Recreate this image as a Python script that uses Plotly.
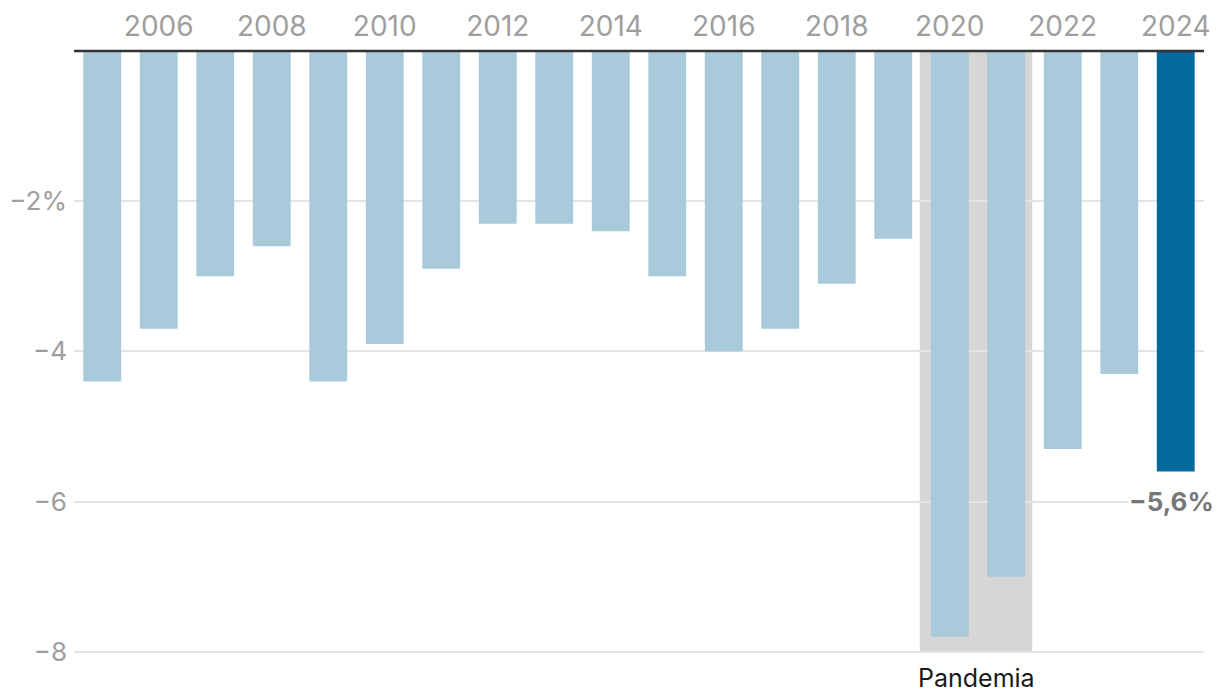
import plotly.graph_objects as go

years = list(range(2005, 2025))
values = [-4.4, -3.7, -3.0, -2.6, -4.4, -3.9, -2.9, -2.3, -2.3, -2.4,
          -3.0, -4.0, -3.7, -3.1, -2.5, -7.8, -7.0, -5.3, -4.3, -5.6]
x_tick_vals = list(range(2006, 2025, 2))
x_tick_text = [str(y) for y in x_tick_vals]
y_tick_vals = [-2, -4, -6, -8]
y_tick_text = ["−2%", "−4", "−6", "−8"]
last_label = "−5,6%"
pandemic_label = "Pandemia"
pandemic_span = [2019.47, 2021.46]

LIGHT = "#a8cadb"
DARK = "#05699c"
colors = [LIGHT] * (len(years) - 1) + [DARK]

FONT = "Inter"

fig = go.Figure()
fig.add_trace(go.Bar(
    x=years, y=values, marker=dict(color=colors, line=dict(width=0)),
    width=0.67, hoverinfo="x+y",
))

fig.add_shape(type="rect", xref="x", yref="y",
              x0=pandemic_span[0], x1=pandemic_span[1], y0=0, y1=-8,
              fillcolor="#d6d6d6", line=dict(width=0), layer="below")

# baseline at zero (top)
fig.add_shape(type="line", xref="x domain", yref="y", x0=0, x1=1, y0=0, y1=0,
              line=dict(color="#333333", width=2.5), layer="above")

fig.add_annotation(x=years[-1], y=-6.0, xref="x", yref="y", text=f"<b>{last_label}</b>",
                   showarrow=False, xanchor="center", yanchor="middle", xshift=-4,
                   font=dict(family=FONT, size=26, color="#777777"),
                   bgcolor="white", borderpad=0)

fig.add_annotation(x=(pandemic_span[0] + pandemic_span[1]) / 2, y=-8, xref="x", yref="y",
                   text=pandemic_label, showarrow=False, xanchor="center", yanchor="middle",
                   yshift=-26, font=dict(family=FONT, size=25, color="#1a1a1a"))

fig.update_layout(
    width=1220, height=698,
    margin=dict(l=74, r=16, t=49, b=44),
    plot_bgcolor="white", paper_bgcolor="white",
    showlegend=False, bargap=0.33,
    font=dict(family=FONT, color="#9e9e9e", size=26),
    xaxis=dict(
        side="top", range=[2004.5, 2024.5], tickmode="array",
        tickvals=x_tick_vals, ticktext=x_tick_text,
        showgrid=False, zeroline=False, showline=False, ticks="",
        ticklabelstandoff=6, automargin=False,
        tickfont=dict(family=FONT, size=28, color="#9e9e9e"),
    ),
    yaxis=dict(
        range=[-8.03, 0.027], tickmode="array", tickvals=y_tick_vals, ticktext=y_tick_text,
        showgrid=True, gridcolor="#e4e4e4", gridwidth=2, zeroline=False,
        showline=False, ticks="", ticklabelstandoff=6, automargin=False,
        tickfont=dict(family=FONT, size=26, color="#9e9e9e"),
    ),
)

fig.write_html("out.html")
